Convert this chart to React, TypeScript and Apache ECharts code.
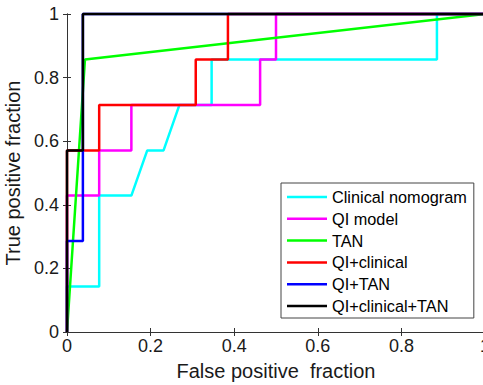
import React, { useEffect, useRef } from "react";
import * as echarts from "echarts";

const seriesNames = ["Clinical nomogram", "QI model", "TAN", "QI+clinical", "QI+TAN", "QI+clinical+TAN"];
const seriesColors = ["#00FFFF", "#FF00FF", "#00FF00", "#FF0000", "#0000FF", "#000000"];

const clinicalX = [0, 0, 0.077, 0.077, 0.154, 0.192, 0.231, 0.269, 0.346, 0.346, 0.885, 0.885, 1];
const clinicalY = [0, 0.143, 0.143, 0.429, 0.429, 0.571, 0.571, 0.714, 0.714, 0.857, 0.857, 1, 1];

const qiX = [0, 0, 0.077, 0.077, 0.154, 0.154, 0.462, 0.462, 0.5, 0.5, 1];
const qiY = [0, 0.429, 0.429, 0.571, 0.571, 0.714, 0.714, 0.857, 0.857, 1, 1];

const tanX = [0, 0.043, 1];
const tanY = [0, 0.857, 1];

const qiClinicalX = [0, 0, 0.077, 0.077, 0.308, 0.308, 0.385, 0.385, 1];
const qiClinicalY = [0, 0.571, 0.571, 0.714, 0.714, 0.857, 0.857, 1, 1];

const qiTanX = [0, 0, 0.038, 0.038, 1];
const qiTanY = [0, 0.286, 0.286, 1, 1];

const allX = [0, 0, 0.038, 0.038, 1];
const allY = [0, 0.571, 0.571, 1, 1];

const xs = [clinicalX, qiX, tanX, qiClinicalX, qiTanX, allX];
const ys = [clinicalY, qiY, tanY, qiClinicalY, qiTanY, allY];

const FONT = "'Liberation Sans', Arial, Helvetica, sans-serif";
const AXIS = "#333333";

export default function App() {
  const ref = useRef<HTMLDivElement>(null);
  useEffect(() => {
    if (!ref.current) return;
    const chart = echarts.init(ref.current, undefined, { renderer: "svg" });
    const axisCommon = {
      type: "value" as const,
      min: 0,
      max: 1,
      interval: 0.2,
      splitLine: { show: false },
      axisLine: { show: true, lineStyle: { color: AXIS, width: 1 } },
      axisTick: { show: true, inside: true, length: 4, lineStyle: { color: AXIS } },
    };
    chart.setOption({
      animation: false,
      backgroundColor: "#ffffff",
      textStyle: { fontFamily: FONT },
      grid: { left: 67, top: 14, width: 418, height: 318, containLabel: false, outerBoundsMode: "none" },
      legend: {
        orient: "vertical",
        left: 281,
        top: 183,
        data: seriesNames,
        icon: "rect",
        itemWidth: 40,
        itemHeight: 2.5,
        itemGap: 5.8,
        padding: [6, 7, 4, 6],
        borderColor: "#444444",
        borderWidth: 1,
        backgroundColor: "#ffffff",
        textStyle: { fontFamily: FONT, fontSize: 16.3, lineHeight: 16, color: "#000000" },
      },
      xAxis: [
        {
          ...axisCommon,
          position: "bottom",
          name: "False positive  fraction",
          nameLocation: "middle",
          nameGap: 29,
          nameTextStyle: { fontFamily: FONT, fontSize: 20, color: "#1a1a1a" },
          axisLabel: { fontFamily: FONT, fontSize: 18, color: "#1a1a1a", margin: 5 },
        },
        {
          ...axisCommon,
          position: "top",
          axisLabel: { show: false },
        },
      ],
      yAxis: [
        {
          ...axisCommon,
          position: "left",
          name: "True positive fraction",
          nameLocation: "middle",
          nameGap: 35,
          nameTextStyle: { fontFamily: FONT, fontSize: 20, color: "#1a1a1a" },
          axisLabel: { fontFamily: FONT, fontSize: 18, color: "#1a1a1a", margin: 8 },
        },
        {
          ...axisCommon,
          position: "right",
          axisLabel: { show: false },
        },
      ],
      series: seriesNames.map((name, i) => ({
        name,
        type: "line",
        xAxisIndex: 0,
        yAxisIndex: 0,
        data: xs[i].map((x, j) => [x, ys[i][j]]),
        symbol: "none",
        clip: false,
        color: seriesColors[i],
        lineStyle: { color: seriesColors[i], width: 2.5 },
        z: 2 + i,
      })),
    });
    return () => chart.dispose();
  }, []);
  return <div ref={ref} style={{ width: 483, height: 385, position: "absolute", left: 0, top: 0 }} />;
}
